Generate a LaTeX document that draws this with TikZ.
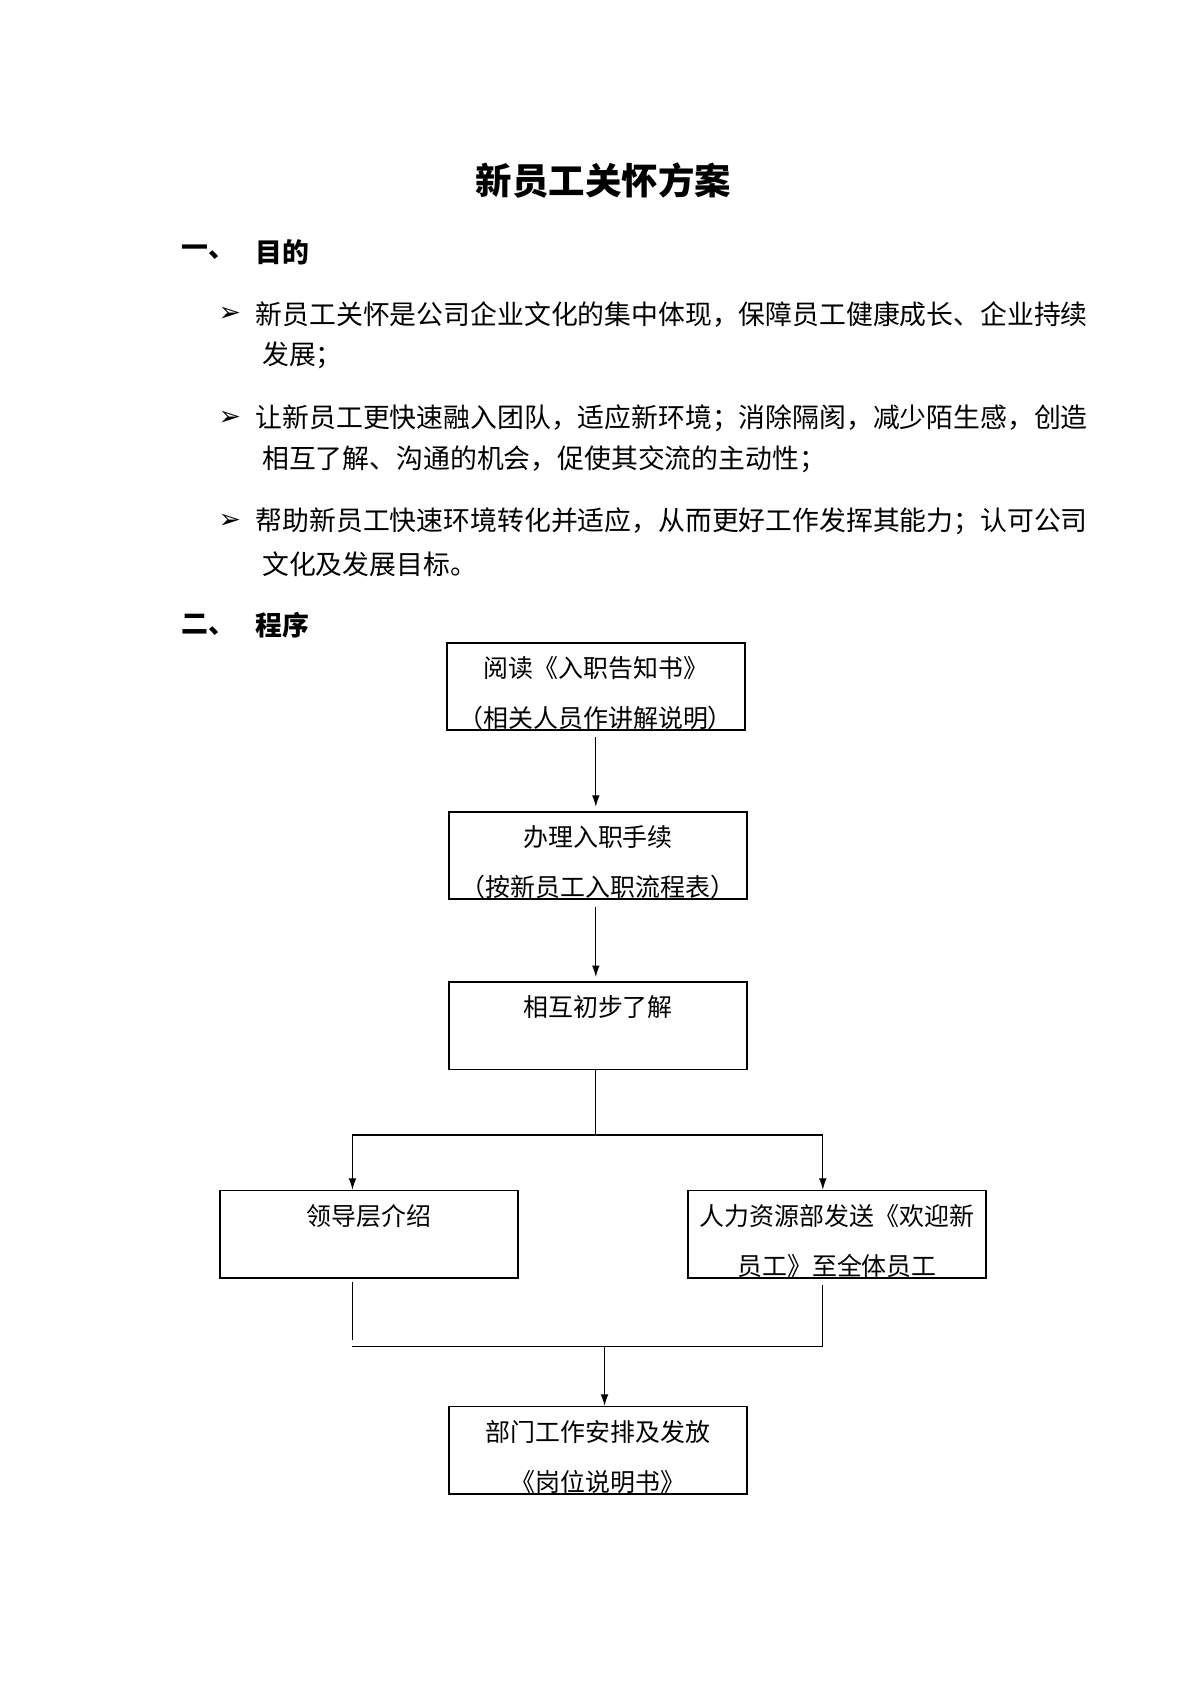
\documentclass[tikz,border=0pt]{standalone}
\usepackage{fontspec}
\setmainfont{Noto Sans CJK SC}
\newfontfamily\symfont{DejaVu Sans}
\usetikzlibrary{positioning,arrows.meta}
\tikzset{
  box/.style={draw,line width=0.8pt,minimum width=5.46cm,minimum height=1.6cm,inner sep=0pt,align=center},
  toptext/.style={anchor=north,inner sep=0pt,align=center,font=\fontsize{13}{26}\selectfont},
  body/.style={anchor=west,inner sep=0pt,font=\fontsize{14}{20}\selectfont},
  head/.style={anchor=west,inner sep=0pt,font=\fontsize{14}{20}\selectfont\bfseries},
  arr/.style={-{Latex[length=6pt,width=4pt]},line width=0.6pt},
  ln/.style={line width=0.6pt}
}
\begin{document}
\begin{tikzpicture}[x=0.02cm,y=-0.02cm]
\useasboundingbox (0,0) rectangle (1100,1556);
\node (title) at (553,165) {\fontsize{19}{24}\selectfont\bfseries 新员工关怀方案};
\node[head] (h1) at (166,231) {一、};
\node[head] (h1t) at (234,231) {目的};
\node[body] (b1) at (200,288) {\symfont ➢};
\node[body] (t1a) at (234,288) {新员工关怀是公司企业文化的集中体现，保障员工健康成长、企业持续};
\node[body] (t1b) at (240,326) {发展；};
\node[body] (b2) at (200,383) {\symfont ➢};
\node[body] (t2a) at (234,383) {让新员工更快速融入团队，适应新环境；消除隔阂，减少陌生感，创造};
\node[body] (t2b) at (240,421) {相互了解、沟通的机会，促使其交流的主动性；};
\node[body] (b3) at (200,478) {\symfont ➢};
\node[body] (t3a) at (234,478) {帮助新员工快速环境转化并适应，从而更好工作发挥其能力；认可公司};
\node[body] (t3b) at (240,517) {文化及发展目标。};
\node[head] (h2) at (166,573) {二、};
\node[head] (h2t) at (234,573) {程序};
% flow boxes
\node[box] (read) at (546,629) {};
\node[toptext] at ([yshift=-0.26cm]read.north) {阅读《入职告知书》\\（相关人员作讲解说明）};
\node[box] (proc) at (548,784) {};
\node[toptext] at ([yshift=-0.26cm]proc.north) {办理入职手续\\（按新员工入职流程表）};
\node[box] (meet) at (548,940) {};
\node[toptext] at ([yshift=-0.26cm]meet.north) {相互初步了解};
\node[box] (lead) at (338,1131) {};
\node[toptext] at ([yshift=-0.26cm]lead.north) {领导层介绍};
\node[box] (hr) at (767,1131) {};
\node[toptext] at ([yshift=-0.26cm]hr.north) {人力资源部发送《欢迎新\\员工》至全体员工};
\node[box] (dept) at (548,1329) {};
\node[toptext] at ([yshift=-0.26cm]dept.north) {部门工作安排及发放\\《岗位说明书》};
% connectors
\coordinate (fork) at (546,1040);
\coordinate (forkL) at (323,1040);
\coordinate (forkR) at (754,1040);
\coordinate (joinL) at (323,1234);
\coordinate (joinR) at (754,1234);
\coordinate (joinM) at (554,1234);
\draw[arr] ([yshift=-0.12cm]read.south) -- ([yshift=0.08cm]proc.north -| read.south);
\draw[arr] ([yshift=-0.12cm]proc.south -| read.south) -- ([yshift=0.08cm]meet.north -| read.south);
\draw[ln] (meet.south -| fork) -- (fork);
\draw[ln] (forkL) -- (forkR);
\draw[arr] (forkL) -- (forkL |- lead.north);
\draw[arr] (forkR) -- (forkR |- hr.north);
\draw[ln] ([yshift=-0.06cm]lead.south -| joinL) -- ([yshift=0.12cm]joinL);
\draw[ln] ([yshift=-0.12cm]hr.south -| joinR) -- (joinR);
\draw[ln] (joinL) -- (joinR);
\draw[arr] (joinM) -- (joinM |- dept.north);
\end{tikzpicture}
\end{document}
